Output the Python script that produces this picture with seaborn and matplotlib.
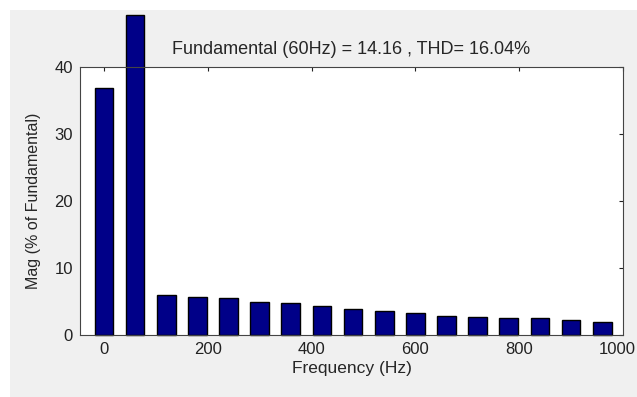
import matplotlib
matplotlib.use("Agg")
import matplotlib.pyplot as plt
import matplotlib.transforms as mtransforms
import seaborn as sns
import pandas as pd
from matplotlib.patches import Rectangle

freqs = [0, 60, 120, 180, 240, 300, 360, 420, 480, 540, 600, 660, 720, 780, 840, 900, 960]
mags = [36.8, 47.8, 5.9, 5.7, 5.5, 5.0, 4.8, 4.3, 3.9, 3.6, 3.3, 2.9, 2.7, 2.6, 2.5, 2.2, 1.9]
xticks = [0, 200, 400, 600, 800, 1000]
yticks = [0, 10, 20, 30, 40]
title = "Fundamental (60Hz) = 14.16 , THD= 16.04%"

sns.set_style("white")
plt.rcParams['font.family'] = ['Liberation Sans', 'DejaVu Sans']

fig = plt.figure(figsize=(6.37, 3.97), dpi=100)
fig.patch.set_facecolor("white")
fig.patches.append(Rectangle((10/637, 0), 1, 1 - 10/397, transform=fig.transFigure,
                             facecolor="#f0f0f0", edgecolor="none", zorder=-10))
ax = fig.add_axes([80/637, 62/397, 543/637, 268/397])
ax.set_facecolor("white")

df = pd.DataFrame({"f": freqs, "m": mags})
sns.barplot(data=df, x="f", y="m", native_scale=True, width=0.6, color="#000088",
            saturation=1, edgecolor="black", linewidth=1.0, ax=ax)
for p in ax.patches:
    p.set_clip_on(False)

ax.set_xlim(-46, 1000)
ax.set_ylim(0, 40)
ax.set_xticks(xticks)
ax.set_yticks(yticks)
ax.tick_params(direction="in", length=3, top=True, right=True, labelsize=12,
               colors="#222222", width=0.8, pad=5)
for s in ax.spines.values():
    s.set_visible(True)
    s.set_color("#444444")
    s.set_linewidth(0.8)
ax.set_xlabel("Frequency (Hz)", fontsize=12.5, labelpad=3)
ax.set_ylabel("Mag (% of Fundamental)", fontsize=11.5, labelpad=10)
ax.set_title(title, fontsize=13, pad=9, x=0.5)

fig.canvas.draw()
last = ax.get_xticklabels()[-1]
last.set_horizontalalignment("right")
last.set_transform(last.get_transform() + mtransforms.ScaledTranslation(13/100, 0, fig.dpi_scale_trans))

fig.savefig("out.png", dpi=100, facecolor=fig.get_facecolor())
